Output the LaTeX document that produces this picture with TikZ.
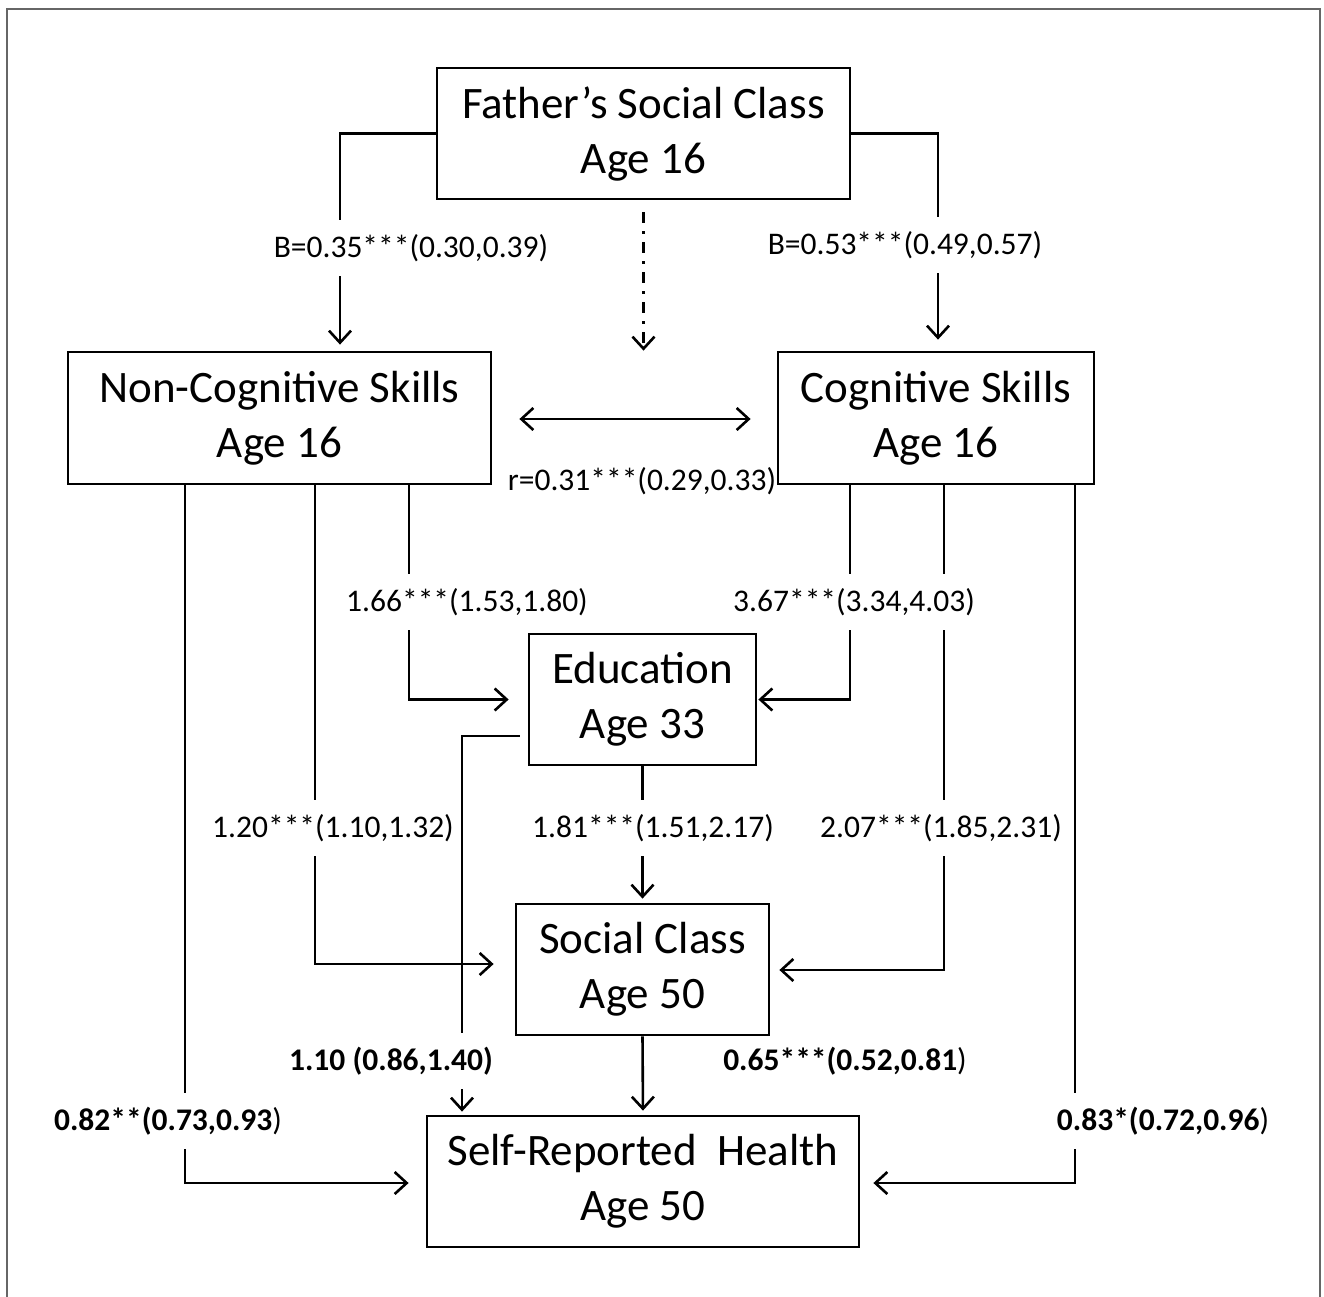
\documentclass[tikz,border=0pt]{standalone}
\usepackage{fontspec}
\setmainfont{Carlito}
\usetikzlibrary{arrows.meta}
\begin{document}
\begin{tikzpicture}[x=1pt,y=-1pt,
  box/.style={draw, line width=2.8pt, rectangle, inner sep=0pt, align=center,
    font=\fontsize{45}{55}\selectfont},
  conn/.style={line width=2.6pt, -{Straight Barb[length=12pt,width=22pt]}},
  lab/.style={fill=white, inner xsep=2pt, inner ysep=14pt, font=\fontsize{31.5}{36}\selectfont}
]
\useasboundingbox (0,0) rectangle (1324,1296);
\draw[line width=2.5pt, draw=black!60] (7,9) rectangle (1320,1320);

\node[box, minimum width=413pt, minimum height=131pt] (fsc) at (643.5,133.5) {Father’s Social Class\\Age 16};
\node[box, minimum width=423pt, minimum height=132pt] (nc) at (279.5,418) {Non-Cognitive Skills\\Age 16};
\node[box, minimum width=316pt, minimum height=132pt] (cs) at (936,418) {Cognitive Skills\\Age 16};
\node[box, minimum width=227pt, minimum height=131pt] (edu) at (642.5,699.5) {Education\\Age 33};
\node[box, minimum width=253pt, minimum height=131pt] (sc) at (642.5,969.5) {Social Class\\Age 50};
\node[box, minimum width=432pt, minimum height=131pt] (srh) at (643,1181.5) {Self-Reported\ \ Health\\Age 50};

% connectors
\draw[conn, shorten >=6pt] (fsc.west) -| ([xshift=60.5pt]nc.north);
\draw[conn, shorten >=11pt] (fsc.east) -| ([xshift=2pt]cs.north);
\draw[conn, shorten <=12pt, dash pattern=on 11pt off 8pt on 3pt off 8pt] (fsc.south) -- (fsc.south |- nc.north);
\draw[line width=2.6pt, {Straight Barb[length=12pt,width=22pt]}-{Straight Barb[length=12pt,width=22pt]}, shorten <=27pt, shorten >=26pt] ([yshift=-1pt]nc.east) -- ([yshift=-1pt]cs.west);

\draw[conn, shorten >=19pt] ([xshift=129.5pt]nc.south) |- (edu.west);
\draw[conn, shorten >=1pt] ([xshift=-86pt]cs.south) |- (edu.east);
\draw[conn, shorten >=21pt] ([xshift=35.5pt]nc.south) |- ([yshift=5.5pt]sc.west);
\draw[conn, shorten >=9pt] ([xshift=8pt]cs.south) |- ([yshift=-0.5pt]sc.east);
\draw[conn, shorten >=4pt] (edu.south) -- (sc.north);
\draw[conn, shorten <=8pt, shorten >=3pt] ([yshift=-36.5pt]edu.west) -| ([xshift=-181pt]srh.north);
\draw[conn, shorten >=17pt] ([xshift=-94.5pt]nc.south) |- ([yshift=-1.5pt]srh.west);
\draw[conn, shorten >=13pt] ([xshift=139pt]cs.south) |- ([yshift=-1.5pt]srh.east);
\draw[conn, shorten >=4pt] (sc.south) -- (srh.north);

% labels
\node[lab] (l1) at (411,248) {B=0.35***(0.30,0.39)};
\node[lab] (l2) at (905,245) {B=0.53***(0.49,0.57)};
\node[font=\fontsize{31.5}{36}\selectfont, inner sep=0pt] (l3) at (642,481) {r=0.31***(0.29,0.33)};
\node[lab] (l4) at (467,602) {1.66***(1.53,1.80)};
\node[lab] (l5) at (854,602) {3.67***(3.34,4.03)};
\node[lab] (l6) at (333,828) {1.20***(1.10,1.32)};
\node[lab] (l7) at (653,828) {1.81***(1.51,2.17)};
\node[lab] (l8) at (941,828) {2.07***(1.85,2.31)};
\node[lab] (l9) at (391,1061) {\textbf{1.10 (0.86,1.40)}};
\node[font=\fontsize{31.5}{36}\selectfont, inner sep=0pt] (l10) at (845,1061) {\textbf{0.65***(0.52,0.81})};
\node[lab] (l11) at (168,1121) {\textbf{0.82**(0.73,0.93})};
\node[lab] (l12) at (1163,1121) {\textbf{0.83*(0.72,0.96})};
\end{tikzpicture}
\end{document}
